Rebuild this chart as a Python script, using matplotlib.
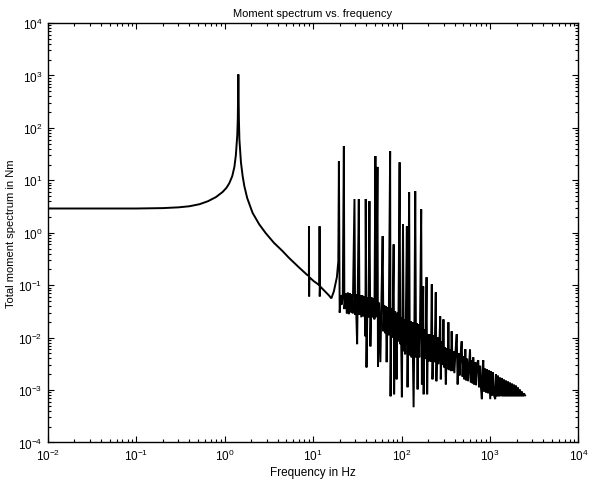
"""
Moment spectrum vs. frequency (log-log)
"""

import numpy as np
import matplotlib
matplotlib.use('Agg')
import matplotlib.pyplot as plt
from matplotlib.ticker import FixedLocator, NullFormatter

plt.rcParams['font.family'] = ['Liberation Sans', 'DejaVu Sans']
plt.rcParams['mathtext.fontset'] = 'custom'
plt.rcParams['mathtext.rm'] = 'Liberation Sans'

# Low-frequency part: flat plateau and first resonance
freq_low = [0.01, 0.03, 0.1, 0.2, 0.3, 0.4, 0.52, 0.65, 0.8, 0.95, 1.05,
            1.13, 1.22, 1.29, 1.34, 1.37, 1.39, 1.41, 1.43, 1.45, 1.47,
            1.50, 1.53, 1.60, 1.67, 1.80, 2.07, 2.46, 2.92, 3.62, 4.5,
            5.36, 6.9, 8.54]
amp_low = [2.9, 2.9, 2.9, 2.95, 3.05, 3.2, 3.5, 4.0, 4.8, 6.0, 7.2,
           8.8, 12, 18, 30, 50, 72, 150, 1050, 150, 60,
           35, 22, 12, 7.8, 4.6, 2.4, 1.45, 0.98, 0.64, 0.45,
           0.33, 0.22, 0.158]

# Higher modes and dense high-frequency content
freq_high = [8.97, 8.99, 9.03, 9.08, 10.2, 11.8, 11.85, 11.9, 12.0, 13.6, 15.1, 16.1,
             17.2, 18.6, 19.3, 19.6, 20.0, 20.6, 21.2, 21.7, 22.3, 22.6,
             23.5, 24.1, 24.7, 25.4, 26.0, 26.7, 27.4, 28.1, 29.4, 29.9,
             30.4, 31.5, 32.0, 32.9, 33.5, 34.2, 35.1, 36.0, 36.9, 37.9,
             39.1, 39.4, 40.2, 41.3, 42.3, 43.4, 44.5, 45.7, 46.9, 48.1,
             49.4, 50.7, 51.7, 53.5, 54.2, 55.7, 57.7, 59.2, 61.2, 62.4,
             64.0, 65.7, 66.7, 67.9, 69.7, 71.6, 74.4, 75.2, 76.8, 78.4,
             79.8, 81.5, 82.5, 84.7, 86.3, 88.1, 89.9, 92.0, 95.2, 96.7,
             98.4, 101, 104, 106, 108, 110, 112, 115, 117, 119,
             122, 124, 127, 130, 133, 137, 140, 143, 146, 149,
             152, 155, 159, 162, 167, 170, 173, 176, 178, 182,
             187, 192, 195, 199, 205, 210, 215, 220, 224, 230,
             236, 244, 248, 255, 262, 269, 274, 278, 285, 292,
             298, 304, 311, 317, 325, 332, 339, 346, 354, 362,
             369, 378, 386, 396, 407, 421, 431, 442, 453, 465,
             479, 490, 500, 514, 527, 538, 552, 567, 595, 608,
             624, 637, 648, 662, 679, 697, 716, 738, 754, 773,
             794, 810, 827, 841, 858, 881, 904, 927, 952, 977,
             1008, 1029, 1056, 1083, 1112, 1147, 1171, 1202, 1233, 1266,
             1299, 1333, 1368, 1404, 1441, 1479, 1518, 1558, 1599, 1641,
             1684, 1728, 1774, 1820, 1868, 1917, 1967, 2019, 2072, 2126,
             2182, 2239, 2298, 2358, 2420, 2497]
amp_high = [0.15, 1.33, 0.061, 0.142, 0.119, 0.10, 1.33, 0.061, 0.095, 0.0765, 0.064, 0.056,
            0.0765, 0.142, 0.286, 23, 0.030, 0.064, 0.043, 0.070, 45, 0.035,
            0.070, 0.029, 0.073, 0.028, 0.070, 0.030, 0.067, 0.029, 4.4, 0.027,
            0.067, 0.0075, 0.064, 4.4, 0.027, 0.064, 0.0244, 0.064, 0.0255, 0.061,
            0.0106, 4.4, 0.0027, 0.059, 0.0244, 4.0, 0.0068, 0.059, 0.0244, 0.056,
            0.0223, 29, 0.0244, 18, 0.0028, 0.047, 0.0034, 0.043, 0.86, 0.0132,
            0.041, 0.0121, 0.040, 0.0034, 0.038, 0.0111, 36, 0.00076, 0.036, 0.0101,
            0.035, 0.60, 0.00083, 0.032, 0.0093, 0.0016, 0.030, 0.0085, 22, 0.0075,
            0.0244, 0.00073, 1.45, 0.0055, 0.0223, 0.0048, 0.0214, 1.33, 0.00113, 0.0205,
            5.9, 0.0046, 0.0205, 0.0042, 0.0196, 0.00047, 0.0188, 6.2, 0.0042, 0.0188,
            0.00103, 0.018, 0.0042, 0.018, 2.8, 0.00128, 0.0172, 0.095, 0.00083, 0.0144,
            0.0039, 0.142, 0.00083, 0.0116, 0.0035, 0.0116, 0.0035, 0.104, 0.0016, 0.0111,
            0.0034, 0.073, 0.00147, 0.0101, 0.0031, 0.0093, 0.0255, 0.0016, 0.0085, 0.0030,
            0.0223, 0.0027, 0.0065, 0.00128, 0.0063, 0.0025, 0.0196, 0.0024, 0.0060, 0.0023,
            0.0132, 0.0023, 0.0055, 0.0021, 0.0052, 0.0116, 0.00128, 0.0050, 0.0019, 0.0046,
            0.0085, 0.0018, 0.0044, 0.0016, 0.0060, 0.00153, 0.0040, 0.00147, 0.0060, 0.0014,
            0.0037, 0.00134, 0.0042, 0.00128, 0.0034, 0.00123, 0.0033, 0.0037, 0.00113, 0.0029,
            0.00103, 0.00067, 0.0027, 0.0037, 0.00094, 0.0026, 0.0009, 0.00248, 0.00086, 0.0024,
            0.00067, 0.0023, 0.00079, 0.0022, 0.00079, 0.00067, 0.0020, 0.00076, 0.0019, 0.00076,
            0.00175, 0.00076, 0.0017, 0.00076, 0.0016, 0.00076, 0.00153, 0.00076, 0.00147, 0.00076,
            0.0014, 0.00076, 0.00134, 0.00076, 0.00128, 0.00076, 0.00123, 0.00076, 0.00113, 0.00076,
            0.00103, 0.00076, 0.00094, 0.00076, 0.00086, 0.00079]

x_decades = [-2, -1, 0, 1, 2, 3, 4]
y_decades = [-4, -3, -2, -1, 0, 1, 2, 3, 4]

freq = np.array(freq_low + freq_high)
amp = np.array(amp_low + amp_high)

fig = plt.figure(figsize=(5.89, 4.85), dpi=100)
ax = fig.add_axes([0.081, 0.0856, 0.901, 0.8649])

ax.loglog(freq, amp, color='black', lw=1.4, solid_joinstyle='miter')

ax.set_xlim(1e-2, 1e4)
ax.set_ylim(1e-4, 1e4)


def set_log_ticks(axis, decades):
    major = [10.0 ** d for d in decades]
    minor = [k * 10.0 ** d for d in decades[:-1] for k in range(2, 10)]
    axis.set_major_locator(FixedLocator(major))
    axis.set_minor_locator(FixedLocator(minor))
    axis.set_minor_formatter(NullFormatter())


set_log_ticks(ax.xaxis, x_decades)
set_log_ticks(ax.yaxis, y_decades)

ax.tick_params(which='both', direction='in', top=True, right=True,
               labelsize=8.5, width=0.8)
ax.tick_params(which='major', length=4, pad=4)
ax.tick_params(which='minor', length=2)
for sp in ax.spines.values():
    sp.set_linewidth(1.0)

ax.set_title('Moment spectrum vs. frequency', fontsize=8, pad=5)
ax.set_xlabel('Frequency in Hz', fontsize=8.5, labelpad=2)
ax.set_ylabel('Total moment spectrum in Nm', fontsize=8, labelpad=1)

fig.savefig('out.png', dpi=100)
